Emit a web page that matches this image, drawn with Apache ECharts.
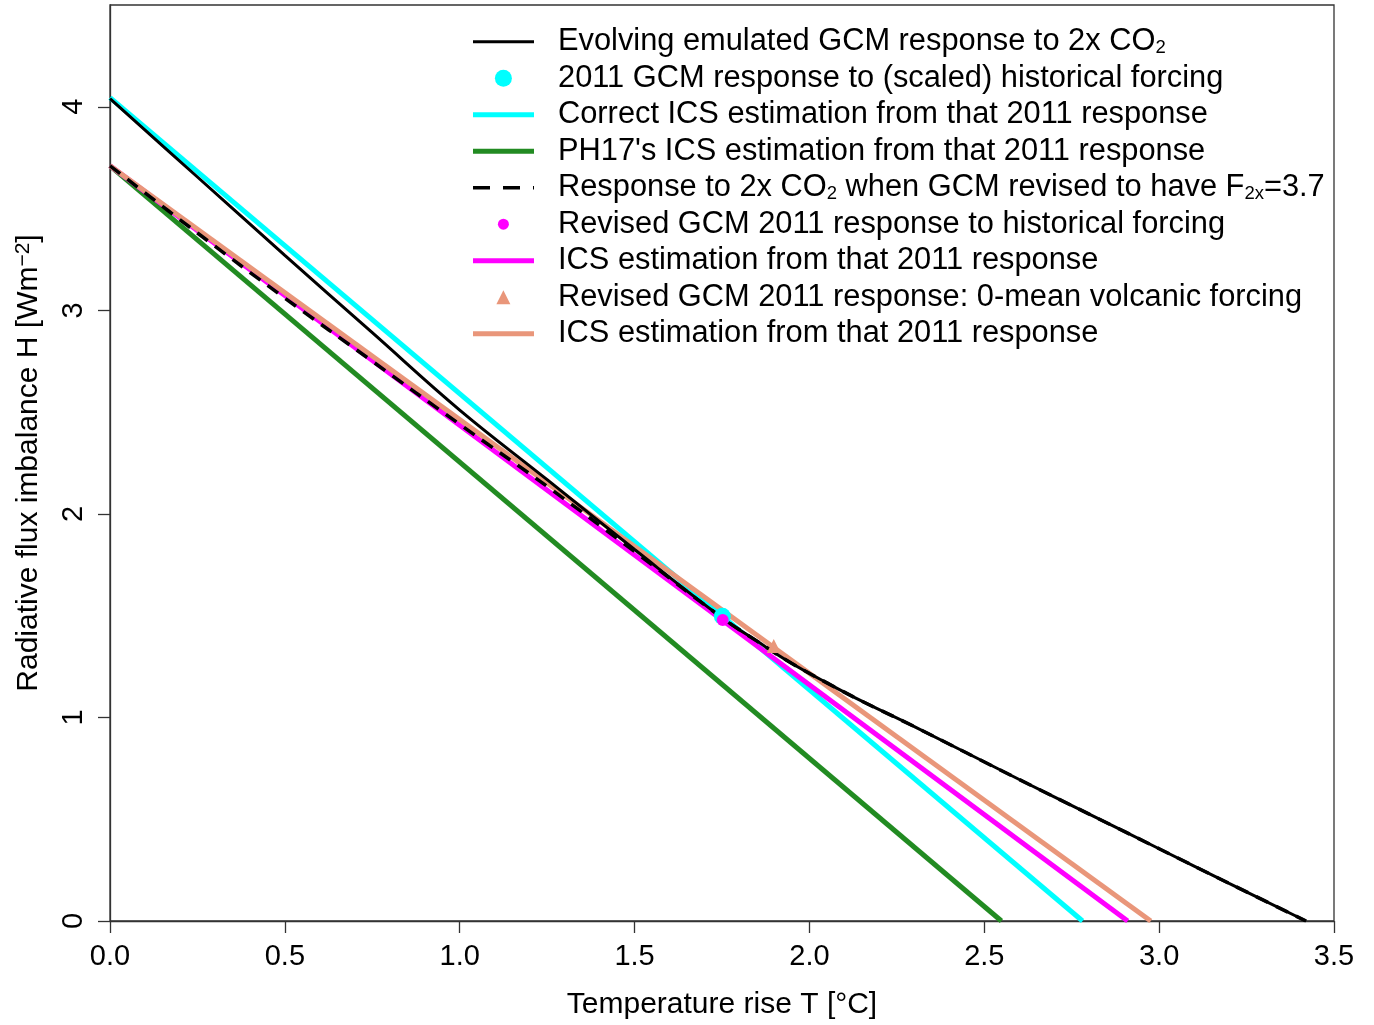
<!DOCTYPE html>
<html>
<head>
<meta charset="utf-8">
<script src="https://cdn.jsdelivr.net/npm/echarts@6/dist/echarts.min.js"></script>
<style>
html, body { margin: 0; padding: 0; background: #fff; }
#main { width: 1374px; height: 1025px; }
</style>
</head>
<body>
<div id="main"></div>
<script>
// evolving emulated GCM response to 2x CO2 (temperature T, flux H)
var evolvingT = [0, 0.25, 0.5, 0.75, 1.0, 1.25, 1.5, 1.75, 1.85, 1.95, 2.05, 2.15, 2.3, 2.6, 2.8, 3.0, 3.2, 3.42];
var evolvingH = [4.04, 3.655, 3.27, 2.89, 2.51, 2.168, 1.825, 1.49, 1.375, 1.265, 1.17, 1.08, 0.955, 0.695, 0.525, 0.355, 0.185, 0];
// response when GCM revised to F2x = 3.7 (joins the evolving curve later)
var revisedH = [3.71, 3.38, 3.06, 2.75, 2.44, 2.135, 1.815, 1.49, 1.375, 1.265, 1.17, 1.08, 0.955, 0.695, 0.525, 0.355, 0.185, 0];

// straight ICS estimation lines: T at start/end, H at start/end
var correctT = [0, 2.781], correctH = [4.045, 0];
var ph17T = [0, 2.549], ph17H = [3.71, 0];
var revisedIcsT = [0, 2.910], revisedIcsH = [3.71, 0];
var volcIcsT = [0, 2.976], volcIcsH = [3.71, 0];

// 2011 responses
var gcm2011 = [1.751, 1.497];
var revised2011 = [1.752, 1.479];
var volc2011 = [1.898, 1.351];

var yTicks = [0, 1, 2, 3, 4];

var FONT = '"Liberation Sans", Arial, sans-serif';
var LH = 32;
var DASH = [13, 9];

function zip(a, b) {
	var out = [];
	for (var i = 0; i < a.length; i++) out.push([a[i], b[i]]);
	return out;
}

function lineSeries(name, t, h, color, width, type, smooth) {
	return {
		name: name,
		type: 'line',
		data: zip(t, h),
		symbol: 'none',
		showSymbol: false,
		silent: true,
		smooth: smooth || false,
		lineStyle: { color: color, width: width, type: type || 'solid' },
		itemStyle: { color: color }
	};
}

function pointSeries(name, p, color, symbol, size) {
	return {
		name: name,
		type: 'scatter',
		data: [p],
		symbol: symbol,
		symbolSize: size,
		silent: true,
		z: 5,
		itemStyle: { color: color, opacity: 1 }
	};
}

var rich = {
	t: { fontSize: 30.8, lineHeight: LH, fontFamily: FONT, color: '#000' },
	s: { fontSize: 18.5, lineHeight: 14, verticalAlign: 'bottom', fontFamily: FONT, color: '#000' }
};

// one legend per row so every key can be sized like the original
function legendRow(i, name, text, kind, size, color, lw, dash) {
	var cy = 41.7 + 36.5 * i;
	var left, w, h, shift = 0;
	if (kind === 'line') { left = 473; w = 61; h = 6; shift = lw / 2; }
	else { left = 503.4 - size / 2; w = size; h = size; }
	var textStart = left + w + 5;
	var leg = {
		data: [name],
		left: left - shift,
		top: cy - LH / 2,
		orient: 'vertical',
		padding: 0,
		itemWidth: w,
		itemHeight: h,
		selectedMode: false,
		formatter: function () { return text; },
		textStyle: {
			fontSize: 30.8, lineHeight: LH, fontFamily: FONT, color: '#000',
			padding: [0, 0, 0, 558 - textStart],
			rich: rich
		}
	};
	if (kind === 'line') {
		leg.itemStyle = { opacity: 0 };
		leg.lineStyle = { color: color, width: lw, type: dash || 'solid' };
	}
	return leg;
}

var myChart = echarts.init(document.getElementById('main'));

var option = {
	animation: false,
	backgroundColor: '#fff',
	grid: {
		left: 110, right: 40, top: 5, bottom: 102,
		show: true, borderColor: '#333', borderWidth: 1.3, backgroundColor: 'transparent'
	},
	legend: [
		legendRow(0, 'evolving', '{t|Evolving emulated GCM response to 2x CO}{s|2}', 'line', 0, '#000000', 3),
		legendRow(1, 'gcm2011', '{t|2011 GCM response to (scaled) historical forcing}', 'point', 17),
		legendRow(2, 'correct', '{t|Correct ICS estimation from that 2011 response}', 'line', 0, '#00FFFF', 5),
		legendRow(3, 'ph17', '{t|PH17\'s ICS estimation from that 2011 response}', 'line', 0, '#228B22', 5),
		legendRow(4, 'revised', '{t|Response to 2x CO}{s|2}{t| when GCM revised to have F}{s|2x}{t|=3.7}', 'line', 0, '#000000', 3.5, [17, 13]),
		legendRow(5, 'revised2011', '{t|Revised GCM 2011 response to historical forcing}', 'point', 11),
		legendRow(6, 'revisedIcs', '{t|ICS estimation from that 2011 response}', 'line', 0, '#FF00FF', 5),
		legendRow(7, 'volc2011', '{t|Revised GCM 2011 response: 0-mean volcanic forcing}', 'point', 14),
		legendRow(8, 'volcIcs', '{t|ICS estimation from that 2011 response}', 'line', 0, '#E9967A', 5)
	],
	xAxis: {
		type: 'value',
		min: 0, max: 3.5, interval: 0.5,
		splitLine: { show: false },
		axisLine: { show: true, lineStyle: { color: '#333', width: 1.3 } },
		axisTick: { show: true, length: 12, lineStyle: { color: '#333', width: 1.3 } },
		axisLabel: {
			fontSize: 29, fontFamily: FONT, color: '#000', margin: 21,
			formatter: function (v) { return v.toFixed(1); }
		},
		name: 'Temperature rise T [°C]',
		nameLocation: 'middle',
		nameGap: 69,
		nameTextStyle: { fontSize: 30, fontFamily: FONT, color: '#000' }
	},
	yAxis: {
		type: 'value',
		min: 0, max: 4.5, interval: 1,
		splitLine: { show: false },
		axisLine: { show: true, lineStyle: { color: '#333', width: 1.3 } },
		axisTick: { show: true, length: 12, customValues: yTicks, lineStyle: { color: '#333', width: 1.3 } },
		axisLabel: {
			fontSize: 29, fontFamily: FONT, color: '#000', margin: 22, rotate: 90,
			customValues: yTicks,
			formatter: function (v) { return v > 4.2 ? '' : String(v); }
		},
		name: '{t|Radiative flux imbalance H [Wm}{p|−2}{t|]}',
		nameLocation: 'middle',
		nameGap: 65,
		nameTextStyle: {
			fontSize: 30, fontFamily: FONT, color: '#000',
			rich: {
				t: { fontSize: 30, lineHeight: LH, fontFamily: FONT, color: '#000' },
				p: { fontSize: 21, lineHeight: 14, verticalAlign: 'top', fontFamily: FONT, color: '#000' }
			}
		}
	},
	series: [
		lineSeries('correct', correctT, correctH, '#00FFFF', 5),
		lineSeries('ph17', ph17T, ph17H, '#228B22', 5),
		lineSeries('revisedIcs', revisedIcsT, revisedIcsH, '#FF00FF', 5),
		lineSeries('volcIcs', volcIcsT, volcIcsH, '#E9967A', 5),
		lineSeries('evolving', evolvingT, evolvingH, '#000000', 3, null, 0.4),
		lineSeries('revised', evolvingT, revisedH, '#000000', 3.5, DASH, 0.4),
		pointSeries('gcm2011', gcm2011, '#00FFFF', 'circle', 17),
		pointSeries('revised2011', revised2011, '#FF00FF', 'circle', 12),
		pointSeries('volc2011', volc2011, '#E9967A', 'triangle', 14)
	]
};

myChart.setOption(option);
</script>
</body>
</html>
